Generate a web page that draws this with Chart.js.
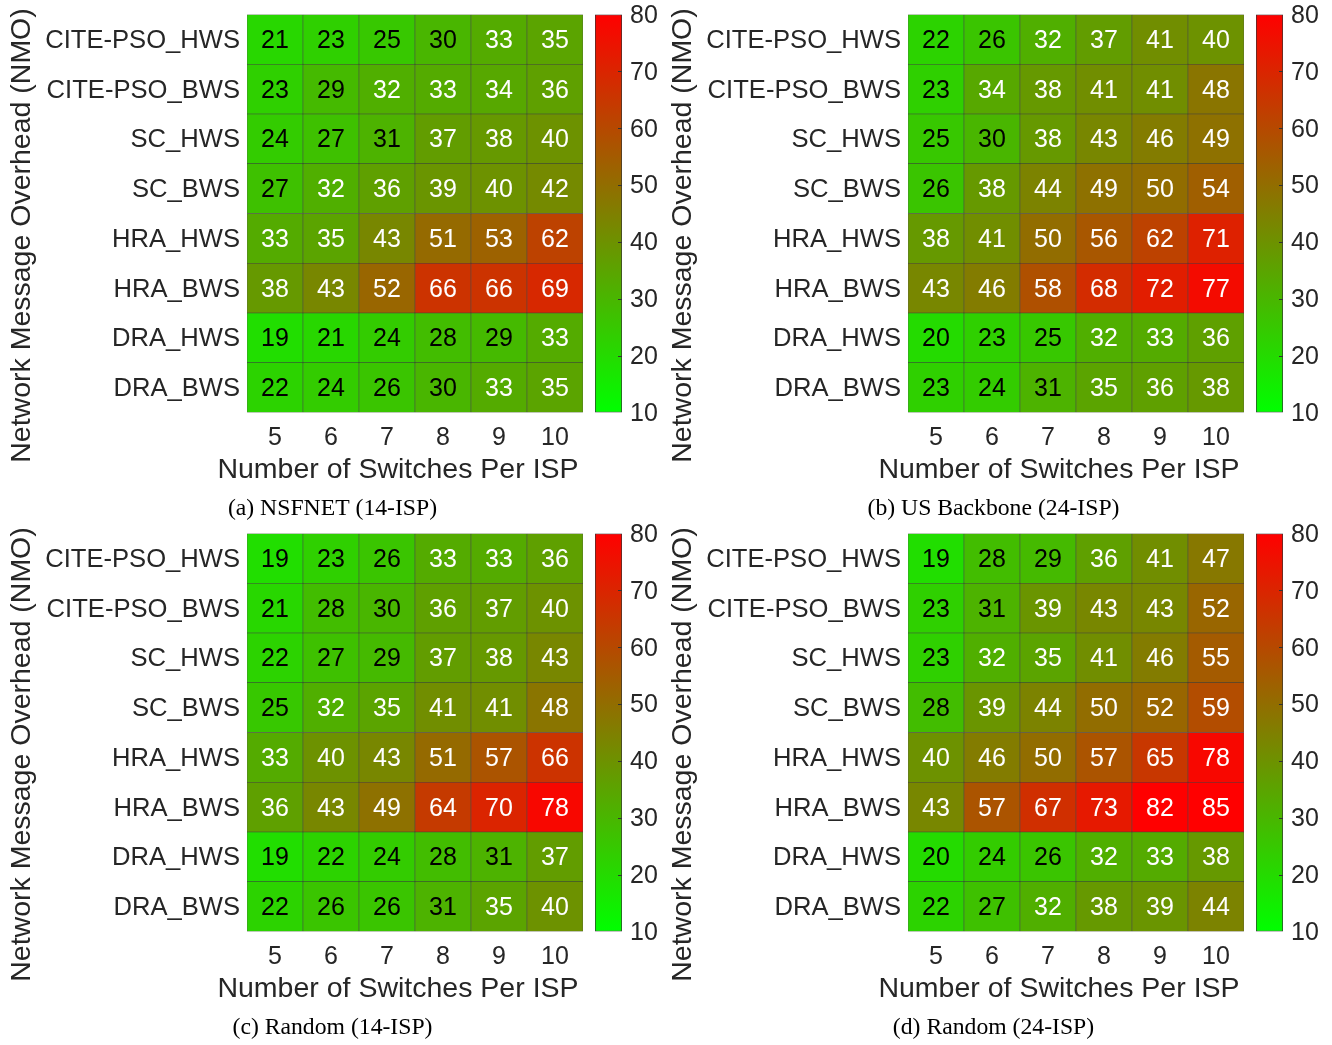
<!DOCTYPE html>
<html>
<head>
<meta charset="utf-8">
<script src="https://cdn.jsdelivr.net/npm/chart.js@4.4.1/dist/chart.umd.min.js"></script>
<style>
    body { margin: 0; background: #fff; width: 1332px; height: 1045px; position: relative; overflow: hidden; }
    .panel { position: absolute; width: 666px; height: 520px; }
    .panel canvas { position: absolute; top: 0; }
</style>
</head>
<body>
<div class="panel" style="left:0;top:0"><canvas id="heat0" width="583" height="520" style="left:0"></canvas><canvas id="bar0" width="80" height="520" style="left:595px"></canvas></div>
<div class="panel" style="left:661px;top:0"><canvas id="heat1" width="583" height="520" style="left:0"></canvas><canvas id="bar1" width="80" height="520" style="left:595px"></canvas></div>
<div class="panel" style="left:0;top:519px"><canvas id="heat2" width="583" height="520" style="left:0"></canvas><canvas id="bar2" width="80" height="520" style="left:595px"></canvas></div>
<div class="panel" style="left:661px;top:519px"><canvas id="heat3" width="583" height="520" style="left:0"></canvas><canvas id="bar3" width="80" height="520" style="left:595px"></canvas></div>

<script>
// Axis labels
const switchCounts = ['5', '6', '7', '8', '9', '10'];
const rowLabels = ['CITE-PSO_HWS', 'CITE-PSO_BWS', 'SC_HWS', 'SC_BWS', 'HRA_HWS', 'HRA_BWS', 'DRA_HWS', 'DRA_BWS'];
const colorTicks = [10, 20, 30, 40, 50, 60, 70, 80];
const captions = ['(a) NSFNET (14-ISP)', '(b) US Backbone (24-ISP)', '(c) Random (14-ISP)', '(d) Random (24-ISP)'];

// NMO values, one row per method (top to bottom), one column per switch count
const nsfnetValues = [
    [21, 23, 25, 30, 33, 35],
    [23, 29, 32, 33, 34, 36],
    [24, 27, 31, 37, 38, 40],
    [27, 32, 36, 39, 40, 42],
    [33, 35, 43, 51, 53, 62],
    [38, 43, 52, 66, 66, 69],
    [19, 21, 24, 28, 29, 33],
    [22, 24, 26, 30, 33, 35]
];
const usBackboneValues = [
    [22, 26, 32, 37, 41, 40],
    [23, 34, 38, 41, 41, 48],
    [25, 30, 38, 43, 46, 49],
    [26, 38, 44, 49, 50, 54],
    [38, 41, 50, 56, 62, 71],
    [43, 46, 58, 68, 72, 77],
    [20, 23, 25, 32, 33, 36],
    [23, 24, 31, 35, 36, 38]
];
const random14Values = [
    [19, 23, 26, 33, 33, 36],
    [21, 28, 30, 36, 37, 40],
    [22, 27, 29, 37, 38, 43],
    [25, 32, 35, 41, 41, 48],
    [33, 40, 43, 51, 57, 66],
    [36, 43, 49, 64, 70, 78],
    [19, 22, 24, 28, 31, 37],
    [22, 26, 26, 31, 35, 40]
];
const random24Values = [
    [19, 28, 29, 36, 41, 47],
    [23, 31, 39, 43, 43, 52],
    [23, 32, 35, 41, 46, 55],
    [28, 39, 44, 50, 52, 59],
    [40, 46, 50, 57, 65, 78],
    [43, 57, 67, 73, 82, 85],
    [20, 24, 26, 32, 33, 38],
    [22, 27, 32, 38, 39, 44]
];
const panelValues = [nsfnetValues, usBackboneValues, random14Values, random24Values];

const textColor = '#262626';
const sans = "'Liberation Sans', Arial, sans-serif";
const serif = "'Liberation Serif', 'Times New Roman', serif";

// green -> red colormap over the colorbar range
function cellColor(v) {
    const lo = colorTicks[0], hi = colorTicks[colorTicks.length - 1];
    const t = Math.min(1, Math.max(0, (v - lo) / (hi - lo)));
    return 'rgb(' + Math.round(255 * t) + ',' + Math.round(255 * (1 - t)) + ',0)';
}

// numbers inside the cells
const cellText = {
    id: 'cellText',
    afterDatasetsDraw(chart) {
        const ctx = chart.ctx;
        ctx.save();
        ctx.font = '25px ' + sans;
        ctx.textAlign = 'center';
        ctx.textBaseline = 'middle';
        chart.data.datasets.forEach((ds, i) => {
            chart.getDatasetMeta(i).data.forEach((bar, j) => {
                const v = ds.cellValues[j];
                ctx.fillStyle = v < 31.5 ? '#000' : '#fff';
                ctx.fillText(String(v), bar.x, (bar.y + bar.base) / 2 + 1.5);
            });
        });
        ctx.restore();
    }
};

// axis titles and sub-caption (offset like the original figure)
const axisText = {
    id: 'axisText',
    afterDraw(chart, args, opts) {
        const ctx = chart.ctx;
        const a = chart.chartArea;
        const cx = (a.left + a.right) / 2;
        ctx.save();
        ctx.textAlign = 'center';
        ctx.textBaseline = 'middle';
        ctx.fillStyle = textColor;
        ctx.font = '28.5px ' + sans;
        ctx.fillText('Number of Switches Per ISP', cx - 17, a.bottom + 57.5);
        ctx.save();
        ctx.translate(a.left - 225, (a.top + a.bottom) / 2 + 22);
        ctx.rotate(-Math.PI / 2);
        ctx.fillText('Network Message Overhead (NMO)', 0, 0);
        ctx.restore();
        ctx.fillStyle = '#000';
        ctx.font = '23.7px ' + serif;
        ctx.fillText(opts.caption, cx - 82.5, a.bottom + 96.5);
        ctx.restore();
    }
};

// small inward ticks on the colorbar
const colorbarTicks = {
    id: 'colorbarTicks',
    afterDatasetsDraw(chart) {
        const ctx = chart.ctx;
        const a = chart.chartArea;
        const y = chart.scales.y;
        ctx.save();
        ctx.strokeStyle = '#333';
        ctx.lineWidth = 1;
        colorTicks.slice(1, -1).forEach(v => {
            const py = Math.round(y.getPixelForValue(v)) + 0.5;
            ctx.beginPath();
            ctx.moveTo(a.right - 4, py);
            ctx.lineTo(a.right, py);
            ctx.stroke();
        });
        ctx.restore();
    }
};

panelValues.forEach((values, p) => {
    // bottom row first so the stack builds upward to the top row
    const datasets = rowLabels.map((name, r) => ({
        label: name,
        data: switchCounts.map(() => 1),
        cellValues: values[r],
        backgroundColor: values[r].map(cellColor),
        borderColor: 'rgba(40,40,40,0.85)',
        borderWidth: 0.6,
        borderSkipped: false,
        barPercentage: 1,
        categoryPercentage: 1
    })).reverse();

    new Chart(document.getElementById('heat' + p), {
        type: 'bar',
        data: { labels: switchCounts, datasets: datasets },
        options: {
            responsive: false,
            animation: false,
            layout: { padding: { top: 14.5, right: 0, bottom: 0, left: 0 } },
            plugins: {
                legend: { display: false },
                tooltip: { enabled: false },
                axisText: { caption: captions[p] }
            },
            scales: {
                x: {
                    stacked: true,
                    grid: { display: false, drawTicks: false },
                    border: { display: false },
                    ticks: { color: textColor, font: { size: 25, family: sans }, padding: 11 },
                    afterFit(s) { s.height = 107.5; s.paddingLeft = 0; s.paddingRight = 0; }
                },
                y: {
                    stacked: true,
                    min: 0,
                    max: rowLabels.length,
                    grid: { display: false, drawTicks: false },
                    border: { display: false },
                    afterBuildTicks(s) { s.ticks = rowLabels.map((_, i) => ({ value: i + 0.5 })); },
                    ticks: {
                        color: textColor,
                        font: { size: 25.6, family: sans },
                        padding: 7,
                        labelOffset: 1.5,
                        callback: v => rowLabels[rowLabels.length - 1 - Math.floor(v)]
                    },
                    afterFit(s) { s.width = 247; s.paddingTop = 0; s.paddingBottom = 0; }
                }
            }
        },
        plugins: [cellText, axisText]
    });

    new Chart(document.getElementById('bar' + p), {
        type: 'bar',
        data: {
            labels: [''],
            datasets: [{
                data: [[colorTicks[0], colorTicks[colorTicks.length - 1]]],
                backgroundColor: c => {
                    const chart = c.chart;
                    if (!chart.chartArea) return cellColor(45);
                    const y = chart.scales.y;
                    const g = chart.ctx.createLinearGradient(0, y.getPixelForValue(colorTicks[0]), 0, y.getPixelForValue(colorTicks[colorTicks.length - 1]));
                    g.addColorStop(0, cellColor(colorTicks[0]));
                    g.addColorStop(1, cellColor(colorTicks[colorTicks.length - 1]));
                    return g;
                },
                borderColor: '#333',
                borderWidth: 1,
                borderSkipped: false,
                barPercentage: 1,
                categoryPercentage: 1
            }]
        },
        options: {
            responsive: false,
            animation: false,
            layout: { padding: { top: 14.5, right: 0, bottom: 107.5, left: 0 } },
            plugins: { legend: { display: false }, tooltip: { enabled: false } },
            scales: {
                x: { display: false },
                y: {
                    position: 'right',
                    min: colorTicks[0],
                    max: colorTicks[colorTicks.length - 1],
                    grid: { display: false, drawTicks: false },
                    border: { display: false },
                    afterBuildTicks(s) { s.ticks = colorTicks.map(v => ({ value: v })); },
                    ticks: { color: textColor, font: { size: 25, family: sans }, padding: 8, labelOffset: 1.5 },
                    afterFit(s) { s.width = 53; s.paddingTop = 0; s.paddingBottom = 0; }
                }
            }
        },
        plugins: [colorbarTicks]
    });
});
</script>
</body>
</html>
